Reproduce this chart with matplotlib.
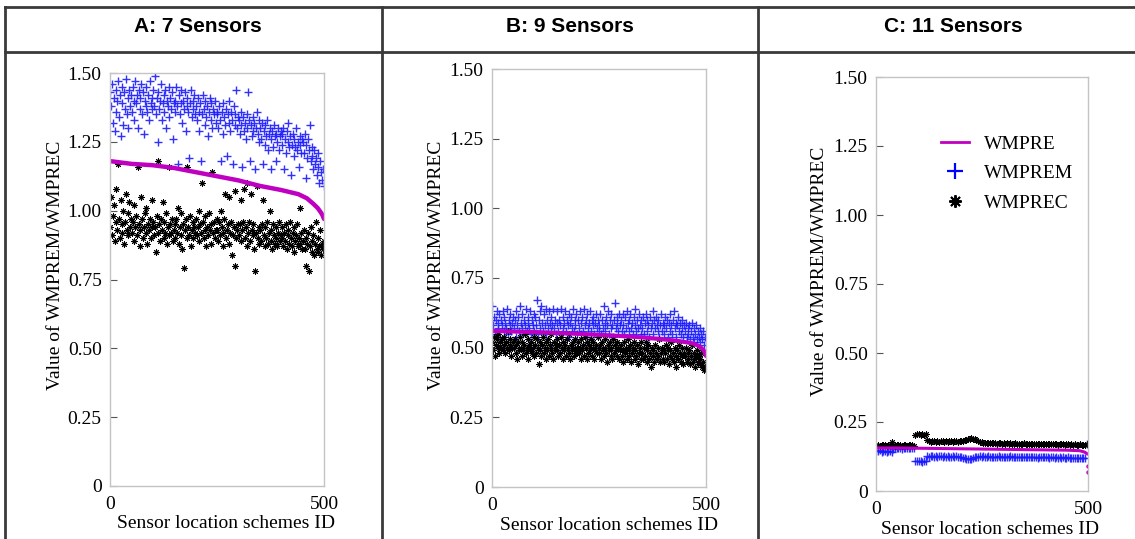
import numpy as np
import matplotlib
matplotlib.use('Agg')
import matplotlib.pyplot as plt
from matplotlib.lines import Line2D

plt.rcParams['font.family'] = ['Liberation Serif', 'DejaVu Serif']

# scheme IDs for the scatter series
ids_ab = np.arange(1, 500, 2)   # 250 schemes shown for panels A and B
ids_c = np.arange(1, 500, 4)    # 125 schemes shown for panel C

# ---- A: 7 sensors ----
wmprem_a = [
    1.43, 1.38, 1.46, 1.32, 1.41, 1.29, 1.44, 1.36, 1.40, 1.47, 1.34, 1.42, 1.27, 1.39, 1.45, 1.31, 1.43, 1.37, 1.48, 1.35, 1.41, 1.30, 1.44, 1.38, 1.42,
    1.36, 1.45, 1.40, 1.33, 1.47, 1.39, 1.42, 1.30, 1.44, 1.37, 1.41, 1.46, 1.35, 1.43, 1.28, 1.40, 1.38, 1.45, 1.36, 1.42, 1.33, 1.47, 1.39, 1.41, 1.37,
    1.44, 1.38, 1.49, 1.35, 1.41, 1.25, 1.43, 1.37, 1.40, 1.46, 1.33, 1.39, 1.42, 1.36, 1.44, 1.30, 1.40, 1.38, 1.45, 1.34, 1.41, 1.37, 1.43, 1.26, 1.39,
    1.40, 1.36, 1.45, 1.38, 1.17, 1.42, 1.35, 1.39, 1.44, 1.32, 1.40, 1.37, 1.43, 1.29, 1.38, 1.41, 1.36, 1.19, 1.39, 1.44, 1.34, 1.40, 1.37, 1.42, 1.35,
    1.38, 1.33, 1.41, 1.36, 1.29, 1.39, 1.18, 1.35, 1.42, 1.37, 1.31, 1.40, 1.34, 1.38, 1.27, 1.36, 1.41, 1.33, 1.39, 1.30, 1.37, 1.35, 1.40, 1.32, 1.36,
    1.35, 1.30, 1.38, 1.33, 1.18, 1.36, 1.28, 1.39, 1.34, 1.31, 1.37, 1.20, 1.35, 1.32, 1.40, 1.29, 1.36, 1.33, 1.17, 1.38, 1.31, 1.35, 1.44, 1.30, 1.34,
    1.33, 1.28, 1.36, 1.31, 1.16, 1.34, 1.29, 1.32, 1.26, 1.35, 1.30, 1.43, 1.33, 1.18, 1.31, 1.27, 1.34, 1.29, 1.32, 1.15, 1.30, 1.36, 1.28, 1.33, 1.25,
    1.30, 1.26, 1.32, 1.17, 1.29, 1.24, 1.31, 1.27, 1.33, 1.22, 1.28, 1.30, 1.15, 1.26, 1.29, 1.23, 1.31, 1.27, 1.18, 1.28, 1.25, 1.30, 1.22, 1.27, 1.29,
    1.28, 1.24, 1.30, 1.15, 1.26, 1.21, 1.29, 1.25, 1.32, 1.23, 1.27, 1.13, 1.24, 1.28, 1.20, 1.26, 1.23, 1.30, 1.22, 1.25, 1.16, 1.27, 1.24, 1.21, 1.26,
    1.25, 1.21, 1.28, 1.12, 1.24, 1.19, 1.26, 1.22, 1.31, 1.18, 1.23, 1.20, 1.15, 1.22, 1.17, 1.19, 1.13, 1.21, 1.16, 1.10, 1.18, 1.14, 1.11, 1.15, 1.09,
]
wmprec_a = [
    0.94, 1.05, 0.91, 0.98, 1.02, 0.89, 0.96, 1.08, 0.93, 1.17, 0.97, 0.90, 1.04, 0.95, 0.92, 1.00, 0.88, 0.96, 1.06, 0.93, 0.99, 0.91, 1.03, 0.94, 0.97,
    0.92, 0.96, 1.02, 0.89, 0.94, 0.98, 0.91, 1.16, 0.95, 0.87, 0.93, 1.05, 0.97, 0.90, 0.94, 0.99, 0.92, 1.01, 0.88, 0.95, 0.93, 0.97, 0.90, 1.04, 0.94,
    0.96, 0.91, 0.94, 0.85, 0.98, 0.92, 1.18, 0.95, 0.89, 0.97, 0.93, 1.03, 0.90, 0.96, 0.92, 0.99, 0.88, 0.94, 0.91, 1.16, 0.95, 0.92, 0.97, 0.89, 0.93,
    0.95, 0.90, 0.97, 0.92, 1.01, 0.88, 0.94, 0.99, 0.91, 0.86, 0.95, 0.79, 0.93, 0.97, 0.90, 1.16, 0.94, 0.91, 0.98, 0.87, 0.93, 0.96, 0.90, 0.94, 0.92,
    0.97, 0.91, 0.94, 1.00, 0.89, 0.95, 0.92, 1.10, 0.96, 0.90, 0.93, 0.98, 0.87, 0.94, 0.91, 0.99, 0.93, 0.88, 0.95, 1.14, 0.92, 0.96, 0.90, 0.93, 0.97,
    0.93, 0.89, 0.96, 0.91, 1.00, 0.94, 0.87, 0.92, 0.97, 1.06, 0.90, 0.93, 0.95, 1.05, 0.88, 0.92, 0.96, 0.84, 0.91, 0.94, 0.80, 1.07, 0.90, 0.93, 0.95,
    0.91, 0.95, 1.04, 0.89, 0.93, 0.96, 1.08, 0.90, 0.94, 0.87, 1.10, 0.92, 0.96, 0.89, 1.06, 0.93, 0.91, 0.95, 0.86, 0.78, 0.92, 1.09, 0.90, 0.94, 0.88,
    0.93, 0.89, 0.95, 1.04, 0.91, 0.87, 0.94, 0.90, 0.96, 0.88, 0.92, 1.00, 0.89, 0.93, 0.86, 0.95, 0.91, 0.88, 0.94, 0.90, 0.87, 0.92, 0.96, 0.89, 0.91,
    0.90, 0.94, 0.87, 0.92, 0.89, 0.95, 0.86, 0.91, 0.93, 0.88, 0.96, 0.90, 0.87, 0.92, 0.94, 0.85, 0.89, 0.91, 0.95, 0.87, 0.90, 1.01, 0.88, 0.92, 0.86,
    0.89, 0.93, 0.86, 0.90, 0.80, 0.88, 0.92, 0.78, 0.87, 0.94, 0.85, 0.89, 0.91, 0.84, 0.88, 0.96, 0.86, 0.90, 0.85, 0.87, 0.93, 0.84, 0.88, 0.86, 0.89,
]
wmpre_a_ids = [0, 50, 100, 150, 200, 250, 300, 350, 400, 440, 460, 475, 485, 492, 496, 500]
wmpre_a = [1.18, 1.17, 1.165, 1.155, 1.14, 1.125, 1.11, 1.09, 1.075, 1.06, 1.045, 1.025, 1.01, 0.995, 0.985, 0.97]

# ---- B: 9 sensors ----
wmprem_b = [
    0.65, 0.58, 0.61, 0.55, 0.60, 0.63, 0.57, 0.59, 0.62, 0.54, 0.60, 0.58, 0.63, 0.56, 0.61, 0.59, 0.57, 0.64, 0.55, 0.60, 0.58, 0.62, 0.56, 0.59, 0.61,
    0.57, 0.60, 0.54, 0.63, 0.58, 0.61, 0.56, 0.65, 0.59, 0.57, 0.62, 0.55, 0.60, 0.58, 0.64, 0.56, 0.61, 0.59, 0.57, 0.63, 0.55, 0.60, 0.58, 0.62, 0.56,
    0.61, 0.58, 0.67, 0.55, 0.60, 0.63, 0.57, 0.65, 0.59, 0.56, 0.62, 0.58, 0.64, 0.55, 0.60, 0.57, 0.63, 0.59, 0.56, 0.61, 0.58, 0.64, 0.57, 0.60, 0.55,
    0.59, 0.63, 0.56, 0.60, 0.58, 0.64, 0.55, 0.61, 0.57, 0.59, 0.63, 0.56, 0.60, 0.58, 0.62, 0.54, 0.59, 0.61, 0.57, 0.64, 0.56, 0.60, 0.58, 0.62, 0.55,
    0.60, 0.57, 0.63, 0.55, 0.59, 0.61, 0.56, 0.64, 0.58, 0.60, 0.54, 0.62, 0.57, 0.59, 0.63, 0.56, 0.60, 0.58, 0.61, 0.55, 0.59, 0.62, 0.57, 0.60, 0.56,
    0.58, 0.62, 0.55, 0.60, 0.57, 0.65, 0.59, 0.56, 0.61, 0.58, 0.63, 0.55, 0.60, 0.57, 0.62, 0.58, 0.54, 0.60, 0.66, 0.57, 0.59, 0.61, 0.56, 0.62, 0.58,
    0.60, 0.56, 0.62, 0.58, 0.55, 0.61, 0.57, 0.63, 0.59, 0.56, 0.60, 0.62, 0.57, 0.59, 0.55, 0.61, 0.58, 0.64, 0.56, 0.60, 0.57, 0.62, 0.58, 0.55, 0.60,
    0.57, 0.61, 0.55, 0.59, 0.62, 0.56, 0.60, 0.58, 0.54, 0.61, 0.57, 0.59, 0.63, 0.55, 0.60, 0.57, 0.61, 0.58, 0.56, 0.60, 0.54, 0.58, 0.62, 0.56, 0.59,
    0.58, 0.55, 0.61, 0.57, 0.60, 0.54, 0.59, 0.62, 0.56, 0.58, 0.55, 0.60, 0.63, 0.57, 0.59, 0.54, 0.58, 0.61, 0.56, 0.59, 0.55, 0.57, 0.60, 0.54, 0.58,
    0.56, 0.59, 0.54, 0.57, 0.55, 0.58, 0.53, 0.56, 0.59, 0.54, 0.57, 0.52, 0.55, 0.58, 0.53, 0.56, 0.54, 0.57, 0.52, 0.55, 0.53, 0.56, 0.51, 0.54, 0.53,
]
wmprec_b = [
    0.52, 0.49, 0.54, 0.47, 0.51, 0.53, 0.50, 0.55, 0.48, 0.52, 0.50, 0.53, 0.49, 0.51, 0.54, 0.48, 0.52, 0.50, 0.56, 0.49, 0.51, 0.53, 0.47, 0.50, 0.52,
    0.50, 0.53, 0.48, 0.51, 0.46, 0.52, 0.49, 0.54, 0.50, 0.47, 0.52, 0.49, 0.51, 0.55, 0.48, 0.50, 0.53, 0.46, 0.51, 0.49, 0.52, 0.48, 0.50, 0.54, 0.47,
    0.51, 0.48, 0.53, 0.50, 0.44, 0.52, 0.49, 0.47, 0.51, 0.54, 0.48, 0.50, 0.46, 0.52, 0.49, 0.53, 0.47, 0.51, 0.50, 0.55, 0.48, 0.46, 0.52, 0.49, 0.51,
    0.49, 0.53, 0.47, 0.51, 0.48, 0.54, 0.50, 0.46, 0.52, 0.49, 0.51, 0.47, 0.53, 0.50, 0.48, 0.55, 0.46, 0.51, 0.49, 0.52, 0.47, 0.50, 0.53, 0.48, 0.50,
    0.52, 0.48, 0.50, 0.46, 0.53, 0.49, 0.51, 0.47, 0.54, 0.50, 0.46, 0.52, 0.48, 0.51, 0.49, 0.53, 0.47, 0.50, 0.52, 0.46, 0.49, 0.51, 0.48, 0.54, 0.50,
    0.48, 0.51, 0.46, 0.52, 0.49, 0.47, 0.53, 0.50, 0.48, 0.45, 0.51, 0.49, 0.52, 0.47, 0.50, 0.46, 0.53, 0.48, 0.51, 0.49, 0.47, 0.52, 0.50, 0.46, 0.49,
    0.51, 0.47, 0.49, 0.45, 0.52, 0.48, 0.50, 0.46, 0.53, 0.49, 0.47, 0.51, 0.45, 0.48, 0.50, 0.52, 0.46, 0.49, 0.47, 0.51, 0.44, 0.48, 0.50, 0.46, 0.52,
    0.48, 0.46, 0.50, 0.47, 0.52, 0.45, 0.49, 0.51, 0.46, 0.48, 0.43, 0.50, 0.47, 0.49, 0.45, 0.51, 0.48, 0.46, 0.50, 0.47, 0.53, 0.45, 0.48, 0.50, 0.46,
    0.49, 0.45, 0.48, 0.51, 0.46, 0.50, 0.44, 0.47, 0.49, 0.52, 0.46, 0.48, 0.45, 0.50, 0.47, 0.43, 0.49, 0.46, 0.51, 0.48, 0.45, 0.47, 0.50, 0.44, 0.48,
    0.47, 0.50, 0.45, 0.48, 0.46, 0.49, 0.44, 0.47, 0.51, 0.45, 0.48, 0.46, 0.43, 0.47, 0.49, 0.45, 0.47, 0.44, 0.46, 0.48, 0.43, 0.45, 0.42, 0.43, 0.42,
]
wmpre_b_ids = [0, 50, 100, 150, 200, 250, 300, 350, 400, 440, 470, 485, 495, 500]
wmpre_b = [0.56, 0.558, 0.556, 0.553, 0.55, 0.546, 0.542, 0.537, 0.53, 0.523, 0.515, 0.505, 0.49, 0.47]

# ---- C: 11 sensors ----
wmprem_c = [
    0.146, 0.144, 0.147, 0.143, 0.145, 0.146, 0.141, 0.144, 0.145, 0.143, 0.152, 0.155, 0.154, 0.156, 0.155, 0.153, 0.156, 0.154, 0.155, 0.157, 0.155, 0.154, 0.156, 0.109, 0.107,
    0.108, 0.110, 0.106, 0.109, 0.108, 0.127, 0.125, 0.128, 0.126, 0.124, 0.127, 0.125, 0.126, 0.128, 0.124, 0.126, 0.125, 0.127, 0.125, 0.124, 0.126, 0.125, 0.127, 0.124, 0.125,
    0.123, 0.120, 0.118, 0.116, 0.115, 0.116, 0.117, 0.119, 0.122, 0.124, 0.125, 0.126, 0.125, 0.126, 0.124, 0.125, 0.126, 0.124, 0.125, 0.123, 0.125, 0.124, 0.126, 0.124, 0.125,
    0.124, 0.125, 0.123, 0.124, 0.126, 0.123, 0.124, 0.125, 0.123, 0.124, 0.122, 0.124, 0.123, 0.125, 0.122, 0.124, 0.123, 0.122, 0.124, 0.123, 0.121, 0.123, 0.122, 0.124, 0.122,
    0.122, 0.123, 0.121, 0.122, 0.124, 0.121, 0.122, 0.120, 0.123, 0.121, 0.122, 0.120, 0.121, 0.122, 0.120, 0.121, 0.119, 0.121, 0.120, 0.119, 0.121, 0.120, 0.118, 0.121, 0.172,
]
wmprec_c = [
    0.165, 0.166, 0.164, 0.167, 0.165, 0.166, 0.164, 0.165, 0.167, 0.178, 0.166, 0.164, 0.165, 0.167, 0.166, 0.164, 0.165, 0.166, 0.164, 0.165, 0.166, 0.165, 0.164, 0.203, 0.205,
    0.205, 0.204, 0.206, 0.203, 0.205, 0.184, 0.181, 0.179, 0.182, 0.180, 0.178, 0.181, 0.179, 0.180, 0.182, 0.178, 0.180, 0.179, 0.181, 0.180, 0.178, 0.180, 0.181, 0.179, 0.180,
    0.180, 0.181, 0.183, 0.186, 0.189, 0.190, 0.191, 0.190, 0.188, 0.185, 0.182, 0.179, 0.177, 0.175, 0.174, 0.175, 0.173, 0.174, 0.175, 0.173, 0.174, 0.172, 0.174, 0.173, 0.172,
    0.173, 0.172, 0.174, 0.171, 0.173, 0.172, 0.171, 0.173, 0.172, 0.170, 0.172, 0.171, 0.173, 0.170, 0.172, 0.171, 0.170, 0.172, 0.171, 0.170, 0.172, 0.170, 0.171, 0.169, 0.171,
    0.170, 0.171, 0.169, 0.170, 0.172, 0.169, 0.170, 0.168, 0.171, 0.169, 0.170, 0.168, 0.169, 0.170, 0.168, 0.169, 0.167, 0.169, 0.168, 0.167, 0.169, 0.168, 0.167, 0.168, 0.170,
]
wmpre_c_ids = [0, 50, 100, 150, 200, 250, 300, 350, 400, 450, 480, 490, 495, 498]
wmpre_c = [0.156, 0.156, 0.155, 0.154, 0.153, 0.152, 0.151, 0.150, 0.149, 0.148, 0.146, 0.142, 0.138, 0.135]
wmpre_c_tail_ids = [499, 500]
wmpre_c_tail = [0.09, 0.07]

titles = ['A: 7 Sensors', 'B: 9 Sensors', 'C: 11 Sensors']
yticks = [0, 0.25, 0.5, 0.75, 1.0, 1.25, 1.5]
ytick_labels = ['0', '0.25', '0.50', '0.75', '1.00', '1.25', '1.50']

W, H = 1135, 539
MAGENTA = '#c000c0'

fig = plt.figure(figsize=(W / 100, H / 100), dpi=100)


def px_axes(left, top, right, bottom):
    return fig.add_axes([left / W, 1 - bottom / H, (right - left) / W, (bottom - top) / H])


def style_axes(ax, ylab_pos, xlab_pos):
    ax.set_xlim(0, 500)
    ax.set_ylim(0, 1.5)
    ax.set_xticks([0, 500])
    ax.set_yticks(yticks)
    ax.set_yticklabels(ytick_labels)
    ax.tick_params(axis='y', direction='in', length=5, width=0.8, color='#555555',
                   labelsize=14, pad=6)
    ax.tick_params(axis='x', length=0, labelsize=14, pad=7)
    for s in ax.spines.values():
        s.set_color('#c4c4c4')
        s.set_linewidth(1)
    ax.set_ylabel('Value of WMPREM/WMPREC', fontsize=14)
    ax.set_xlabel('Sensor location schemes ID', fontsize=14)
    ax.yaxis.set_label_coords(*ylab_pos)
    ax.xaxis.set_label_coords(*xlab_pos)


def draw_points(ax, ids, prem, prec, ms_b=5.5, ms_k=4.6):
    ax.plot(ids, prem, linestyle='none', marker='+', markersize=ms_b,
            markeredgewidth=1.0, color='#1a1aff', alpha=0.9)
    ax.plot(ids, prec, linestyle='none', marker=(8, 2, 0), markersize=ms_k,
            markeredgewidth=0.7, color='black')


# panel A
ax_a = px_axes(110, 73, 324, 486)
draw_points(ax_a, ids_ab, wmprem_a, wmprec_a)
ax_a.plot(wmpre_a_ids, wmpre_a, color=MAGENTA, linewidth=3.2, solid_capstyle='round')
style_axes(ax_a, (-0.215, 0.535), (0.54, -0.07))

# panel B
ax_b = px_axes(492, 69, 706, 487)
draw_points(ax_b, ids_ab, wmprem_b, wmprec_b)
ax_b.plot(wmpre_b_ids, wmpre_b, color=MAGENTA, linewidth=3.0, solid_capstyle='round')
style_axes(ax_b, (-0.22, 0.531), (0.547, -0.072))

# panel C
ax_c = px_axes(876, 77, 1088, 491)
draw_points(ax_c, ids_c, wmprem_c, wmprec_c, ms_b=6, ms_k=4.6)
ax_c.plot(wmpre_c_ids, wmpre_c, color=MAGENTA, linewidth=2.2)
ax_c.plot(wmpre_c_tail_ids, wmpre_c_tail, linestyle='none', marker='o', markersize=2.2,
          color=MAGENTA)
style_axes(ax_c, (-0.226, 0.530), (0.538, -0.073))

handles = [
    Line2D([], [], color=MAGENTA, linewidth=2),
    Line2D([], [], linestyle='none', marker='+', color='blue', markersize=11, markeredgewidth=1.6),
    Line2D([], [], linestyle='none', marker=(8, 2, 0), color='black', markersize=9, markeredgewidth=1.4),
]
ax_c.legend(handles, ['WMPRE', 'WMPREM', 'WMPREC'], loc='upper left',
            bbox_to_anchor=(941 / W, 1 - 135 / H), bbox_transform=fig.transFigure,
            frameon=False, fontsize=14, borderpad=0, borderaxespad=0,
            handlelength=1.45, handletextpad=0.75, labelspacing=0.62)

# table grid around the panels
line_kw = dict(color='#3a3a3a', linewidth=2, transform=fig.transFigure)
fig.add_artist(Line2D([5 / W, 1], [1 - 7 / H, 1 - 7 / H], **line_kw))
fig.add_artist(Line2D([5 / W, 1], [1 - 52 / H, 1 - 52 / H], **line_kw))
for xc in [5, 382, 758]:
    fig.add_artist(Line2D([xc / W, xc / W], [0, 1 - 7 / H], **line_kw))

for title, xc in zip(titles, [198, 570, 953]):
    fig.text(xc / W, 1 - 27 / H, title, ha='center', va='center', fontsize=15,
             fontweight='bold', family=['Liberation Sans', 'DejaVu Sans'])

fig.savefig('out.png', dpi=100)
